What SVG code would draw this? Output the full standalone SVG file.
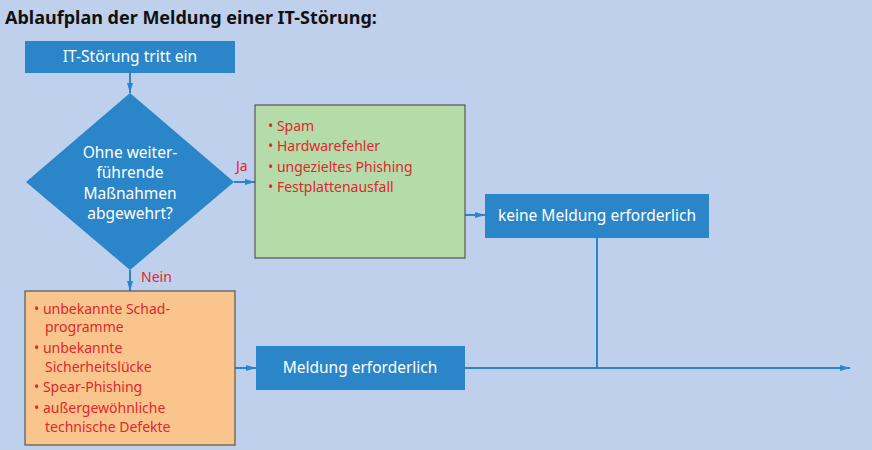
<svg xmlns="http://www.w3.org/2000/svg" width="872" height="450" viewBox="0 0 872 450">
<style>
text{font-family:"Noto Sans","Open Sans","Liberation Sans",sans-serif}
.title{font-size:18px;font-weight:bold;fill:#111}
.bl{fill:#2A86C8}
.wt{fill:#fff;font-size:15.5px;text-anchor:middle}
.rd{fill:#E2252E;font-size:14px}
.ln{stroke:#2A86C8;stroke-width:2;fill:none}
</style>
<defs>
<marker id="ah" viewBox="0 0 10 10" refX="10" refY="5" markerWidth="10" markerHeight="10" orient="auto" markerUnits="userSpaceOnUse">
<path d="M0,2L10,5L0,8z" fill="#2A86C8"/>
</marker>
</defs>
<rect width="872" height="450" fill="#BFD0EC"/>
<text class="title" x="5" y="24">Ablaufplan der Meldung einer IT-Störung:</text>
<g id="connectors">
<line class="ln" x1="130" y1="73" x2="130" y2="93" marker-end="url(#ah)"/>
<line class="ln" x1="234" y1="182" x2="255" y2="182" marker-end="url(#ah)"/>
<line class="ln" x1="130" y1="270" x2="130" y2="291" marker-end="url(#ah)"/>
<line class="ln" x1="465" y1="215" x2="485" y2="215" marker-end="url(#ah)"/>
<line class="ln" x1="235" y1="368" x2="256" y2="368" marker-end="url(#ah)"/>
<line class="ln" x1="597" y1="238" x2="597" y2="368"/>
<line class="ln" x1="465" y1="368" x2="850" y2="368" marker-end="url(#ah)"/>
<text class="rd" x="236" y="171">Ja</text>
<text class="rd" x="141" y="282">Nein</text>
</g>
<g id="start">
<rect class="bl" x="25" y="41" width="210" height="32"/>
<text class="wt" x="130" y="62">IT-Störung tritt ein</text>
</g>
<g id="decision">
<polygon class="bl" points="130,93 234,182 130,270 26,182"/>
<text class="wt" x="130" y="158">Ohne weiter-</text>
<text class="wt" x="130" y="178">führende</text>
<text class="wt" x="130" y="199">Maßnahmen</text>
<text class="wt" x="130" y="219">abgewehrt?</text>
</g>
<g id="ja-list">
<rect x="255" y="105" width="210" height="153" fill="#B5DCA8" stroke="#555" stroke-width="1.2"/>
<text class="rd" x="268" y="131">• Spam</text>
<text class="rd" x="268" y="151">• Hardwarefehler</text>
<text class="rd" x="268" y="172">• ungezieltes Phishing</text>
<text class="rd" x="268" y="192">• Festplattenausfall</text>
</g>
<g id="keine">
<rect class="bl" x="485" y="194" width="224" height="44"/>
<text class="wt" x="597" y="221">keine Meldung erforderlich</text>
</g>
<g id="nein-list">
<rect x="25" y="291" width="210" height="154" fill="#FAC58C" stroke="#555" stroke-width="1.2"/>
<text class="rd" x="34" y="314">• unbekannte Schad-</text>
<text class="rd" x="45" y="332">programme</text>
<text class="rd" x="34" y="353">• unbekannte</text>
<text class="rd" x="45" y="372">Sicherheitslücke</text>
<text class="rd" x="34" y="392">• Spear-Phishing</text>
<text class="rd" x="34" y="413">• außergewöhnliche</text>
<text class="rd" x="45" y="432">technische Defekte</text>
</g>
<g id="meldung">
<rect class="bl" x="256" y="346" width="209" height="44"/>
<text class="wt" x="360" y="373">Meldung erforderlich</text>
</g>
</svg>
